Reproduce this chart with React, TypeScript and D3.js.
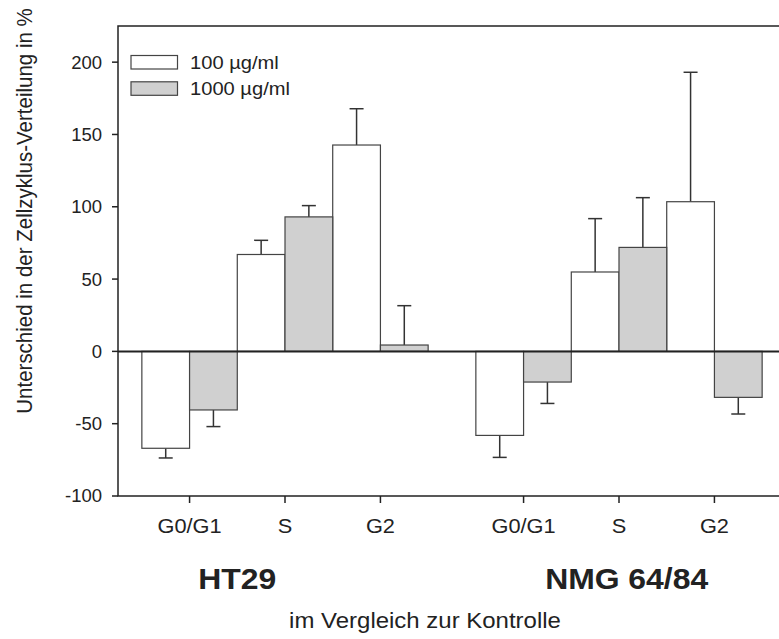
import React from 'react';
import * as d3 from 'd3';

const phases = ['G0/G1', 'S', 'G2', 'G0/G1', 'S', 'G2'];
const phasePos = [0, 1, 2, 3.5, 4.5, 5.5];
const cellLines = ['HT29', 'NMG 64/84'];
const cellLinePos = [0.5, 4.58];
const low = [-67, 67, 142.7, -58.1, 54.9, 103.5];
const lowErr = [-73.7, 76.8, 167.8, -73.3, 91.8, 193];
const high = [-40.5, 93, 4.4, -21.2, 71.9, -31.8];
const highErr = [-52, 100.8, 31.6, -36, 106.3, -43.3];
const yTicks = [-100, -50, 0, 50, 100, 150, 200];
const legendLabels = ['100 µg/ml', '1000 µg/ml'];

const W = 779, H = 639;
const left = 118, right = 786, top = 26, bottom = 496;
const font = 'Arial, "Liberation Sans", sans-serif';

// the reference text is a bit wider than Arial, so stretch it horizontally
function Txt({ x, y, sx = 1.1, anchor = 'start', size, weight = 'normal', dy = '0', children }: any) {
  return (
    <text transform={`translate(${x},${y}) scale(${sx},1)`} dy={dy} textAnchor={anchor}
      fontSize={size} fontWeight={weight} fill="#222">{children}</text>
  );
}

export default function App() {
  const x = d3.scaleLinear().domain([-0.75, 6.25]).range([left, right]);
  const y = d3.scaleLinear().domain([-100, 225]).range([bottom, top]);
  const bw = x(0.5) - x(0);

  const series = [
    { vals: low, errs: lowErr, fill: '#ffffff', off: -bw },
    { vals: high, errs: highErr, fill: '#d0d0d0', off: 0 },
  ];

  return (
    <svg width={W} height={H} style={{ position: 'absolute', left: 0, top: 0 }} fontFamily={font}>
      <rect width={W} height={H} fill="#fff" />
      {series.map((s, si) => (
        <g key={si}>
          {s.vals.map((v, i) => {
            const x0 = x(phasePos[i]) + s.off;
            const cx = x0 + bw / 2;
            return (
              <g key={i}>
                <line x1={cx} x2={cx} y1={y(v)} y2={y(s.errs[i])} stroke="#333" strokeWidth={1.5} />
                <line x1={cx - 7} x2={cx + 7} y1={y(s.errs[i])} y2={y(s.errs[i])} stroke="#333" strokeWidth={1.5} />
                <rect x={x0} y={Math.min(y(v), y(0))} width={bw} height={Math.abs(y(v) - y(0))}
                  fill={s.fill} stroke="#444" strokeWidth={1.2} />
              </g>
            );
          })}
        </g>
      ))}
      {/* zero line */}
      <line x1={left} x2={right} y1={y(0)} y2={y(0)} stroke="#222" strokeWidth={2} />
      {/* frame */}
      <path d={`M${right},${top}H${left}V${bottom}H${right}`} fill="none" stroke="#222" strokeWidth={1.5} />
      {yTicks.map(t => (
        <g key={t}>
          <line x1={left - 6} x2={left} y1={y(t)} y2={y(t)} stroke="#222" strokeWidth={1.5} />
          <Txt x={left - 16} y={y(t)} dy="0.35em" anchor="end" size={18.5} sx={1.0}>{t}</Txt>
        </g>
      ))}
      {phases.map((p, i) => (
        <g key={i}>
          <line x1={x(phasePos[i])} x2={x(phasePos[i])} y1={bottom} y2={bottom + 7} stroke="#222" strokeWidth={1.5} />
          <Txt x={x(phasePos[i])} y={533} anchor="middle" size={20} sx={1.09}>{p}</Txt>
        </g>
      ))}
      {cellLines.map((c, i) => (
        <Txt key={c} x={x(cellLinePos[i])} y={589} anchor="middle" size={29} sx={1.1} weight="bold">{c}</Txt>
      ))}
      <Txt x={425} y={628} anchor="middle" size={22} sx={1.09}>im Vergleich zur Kontrolle</Txt>
      <text transform="translate(32,211) rotate(-90) scale(1,1.08)" textAnchor="middle" fontSize={20.5} fill="#222">
        Unterschied in der Zellzyklus-Verteilung in %
      </text>
      {legendLabels.map((l, i) => (
        <g key={l}>
          <rect x={131} y={55.5 + i * 26.3} width={46.5} height={13.5} fill={series[i].fill} stroke="#444" strokeWidth={1.2} />
          <Txt x={190} y={62 + i * 26.3} dy="0.35em" size={19} sx={1.06}>{l}</Txt>
        </g>
      ))}
    </svg>
  );
}
